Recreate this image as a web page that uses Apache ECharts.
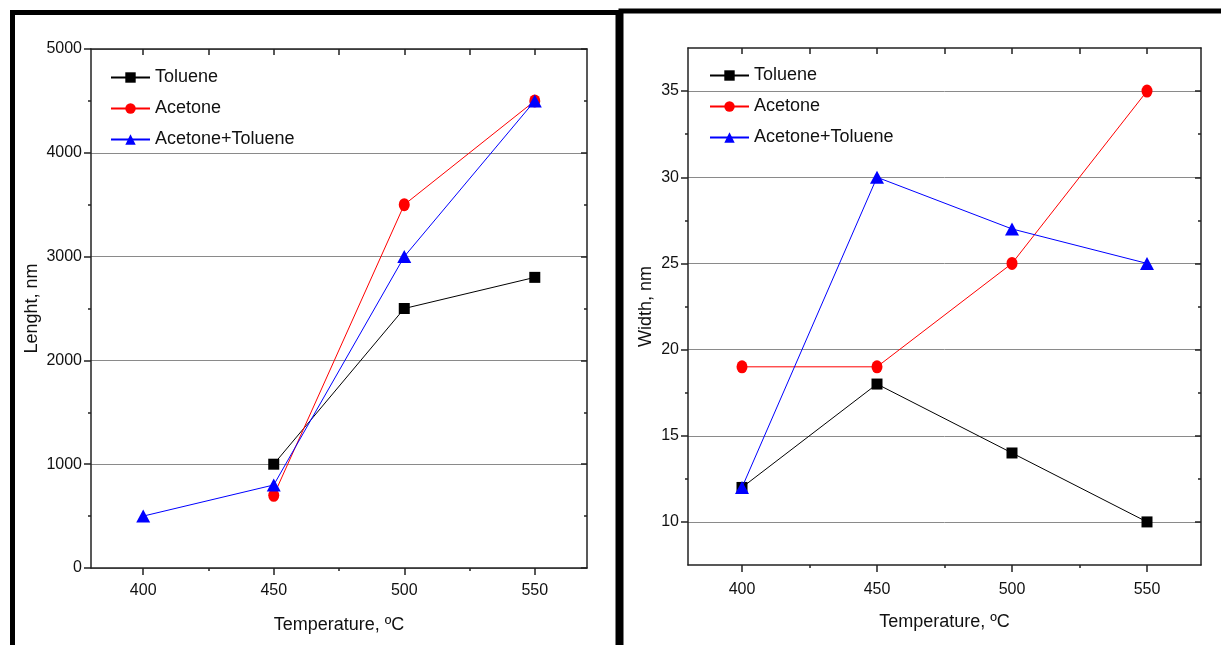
<!DOCTYPE html>
<html lang="en">
<head>
    <meta charset="UTF-8">
    <title>Length and width vs temperature</title>
    <script src="https://cdn.jsdelivr.net/npm/echarts@6.0.0/dist/echarts.min.js"></script>
    <style>
        body { margin: 0; background: #fff; }
    </style>
</head>
<body>
    <div id="main" style="width: 1221px;height:645px;"></div>
    <script type="text/javascript">
        // data
        const temps = [400, 450, 500, 550];
        const lengthToluene = [null, 1000, 2500, 2800];
        const lengthAcetone = [null, 700, 3500, 4500];
        const lengthMix = [500, 800, 3000, 4500];
        const widthToluene = [12, 18, 14, 10];
        const widthAcetone = [19, 19, 25, 35];
        const widthMix = [12, 30, 27, 25];

        // tick labels
        const xMajor = [400, 450, 500, 550];
        const xMinor = [425, 475, 525];
        const widthMajor = [10, 15, 20, 25, 30, 35];
        const widthMinor = [12.5, 17.5, 22.5, 27.5, 32.5];

        const names = ['Toluene', 'Acetone', 'Acetone+Toluene'];
        const colors = ['#000000', '#ff0000', '#0000ff'];
        const symbols = ['rect', 'circle', 'triangle'];
        const sizes = [11, [11, 13], [14, 13]];

        const font = 'Liberation Sans, Arial, sans-serif';
        const axisColor = '#222';

        function pairs(ys) {
            return temps.map((t, i) => ys[i] == null ? null : [t, ys[i]]).filter(Boolean);
        }

        function bottomAxis(grid, ticks, len, withLabels, margin) {
            return {
                type: 'value', gridIndex: grid, position: 'bottom', min: 380, max: 570,
                axisLine: { show: withLabels, lineStyle: { color: axisColor, width: 1.5 } },
                axisTick: { show: true, customValues: ticks, length: len, lineStyle: { color: axisColor, width: 1.5 } },
                axisLabel: withLabels
                    ? { customValues: ticks, color: '#111', fontSize: 16, fontFamily: font, margin: margin }
                    : { show: false },
                splitLine: { show: false },
                name: withLabels ? 'Temperature, ºC' : '',
                nameLocation: 'middle', nameGap: 48,
                nameTextStyle: { color: '#111', fontSize: 18, fontFamily: font }
            };
        }

        function topAxis(grid) {
            return {
                type: 'value', gridIndex: grid, position: 'top', min: 380, max: 570,
                axisLine: { show: true, lineStyle: { color: axisColor, width: 1.5 } },
                axisTick: { show: true, inside: true, customValues: xMajor.concat(xMinor), length: 6, lineStyle: { color: axisColor, width: 1.5 } },
                axisLabel: { show: false },
                splitLine: { show: false }
            };
        }

        function makeSeries(list, xi, yi) {
            return list.map((ys, k) => ({
                name: names[k],
                type: 'line',
                xAxisIndex: xi,
                yAxisIndex: yi,
                data: pairs(ys),
                symbol: symbols[k],
                symbolSize: sizes[k],
                showSymbol: true,
                lineStyle: { color: colors[k], width: 1 },
                itemStyle: { color: colors[k] },
                z: 3 + k
            }));
        }

        function legend(left, top) {
            return {
                orient: 'vertical', left: left, top: top,
                data: names,
                itemWidth: 39, itemHeight: 13, itemGap: 12,
                textStyle: { color: '#111', fontSize: 18, fontFamily: font, lineHeight: 19 }
            };
        }

        let myChart = echarts.init(document.getElementById('main'));

        let options = {
            backgroundColor: '#fff',
            animation: false,
            grid: [
                { left: 91, top: 49, width: 496, height: 519 },
                { left: 688, top: 48, width: 513, height: 517 }
            ],
            legend: [legend(105, 63), legend(704, 61)],
            graphic: [
                { type: 'rect', shape: { x: 12.5, y: 12.5, width: 605.5, height: 700 }, style: { fill: null, stroke: '#000', lineWidth: 5 }, silent: true },
                { type: 'rect', shape: { x: 621, y: 11, width: 700, height: 700 }, style: { fill: null, stroke: '#000', lineWidth: 5 }, silent: true }
            ],
            xAxis: [
                bottomAxis(0, xMajor, 7, true, 15),
                bottomAxis(0, xMinor, 3, false, 0),
                topAxis(0),
                bottomAxis(1, xMajor, 7, true, 17),
                bottomAxis(1, xMinor, 3, false, 0),
                topAxis(1)
            ],
            yAxis: [
                {
                    type: 'value', gridIndex: 0, position: 'left', min: 0, max: 5000, interval: 1000,
                    axisLine: { show: true, lineStyle: { color: axisColor, width: 1.5 } },
                    axisTick: { show: true, length: 7, lineStyle: { color: axisColor, width: 1.5 } },
                    minorTick: { show: true, splitNumber: 2, length: 3, lineStyle: { color: axisColor, width: 1.5 } },
                    axisLabel: { color: '#111', fontSize: 16, fontFamily: font, margin: 9, formatter: v => String(v) },
                    splitLine: { show: true, lineStyle: { color: '#8a8a8a', width: 1 } },
                    name: 'Lenght, nm', nameLocation: 'middle', nameGap: 50,
                    nameTextStyle: { color: '#111', fontSize: 18, fontFamily: font }
                },
                {
                    type: 'value', gridIndex: 0, position: 'right', min: 0, max: 5000, interval: 1000,
                    axisLine: { show: true, lineStyle: { color: axisColor, width: 1.5 } },
                    axisTick: { show: true, inside: true, length: 6, lineStyle: { color: axisColor, width: 1.5 } },
                    minorTick: { show: true, splitNumber: 2, length: 3, lineStyle: { color: axisColor, width: 1.5 } },
                    axisLabel: { show: false },
                    splitLine: { show: false }
                },
                {
                    type: 'value', gridIndex: 1, position: 'left', min: 7.5, max: 37.5,
                    axisLine: { show: true, lineStyle: { color: axisColor, width: 1.5 } },
                    axisTick: { show: true, customValues: widthMajor, length: 7, lineStyle: { color: axisColor, width: 1.5 } },
                    axisLabel: { customValues: widthMajor, color: '#111', fontSize: 16, fontFamily: font, margin: 9 },
                    splitLine: { show: true, lineStyle: { color: '#8a8a8a', width: 1 } },
                    name: 'Width, nm', nameLocation: 'middle', nameGap: 33,
                    nameTextStyle: { color: '#111', fontSize: 18, fontFamily: font }
                },
                {
                    type: 'value', gridIndex: 1, position: 'left', min: 7.5, max: 37.5,
                    axisLine: { show: false },
                    axisTick: { show: true, customValues: widthMinor, length: 3, lineStyle: { color: axisColor, width: 1.5 } },
                    axisLabel: { show: false },
                    splitLine: { show: false }
                },
                {
                    type: 'value', gridIndex: 1, position: 'right', min: 7.5, max: 37.5,
                    axisLine: { show: true, lineStyle: { color: axisColor, width: 1.5 } },
                    axisTick: { show: true, inside: true, customValues: widthMajor, length: 6, lineStyle: { color: axisColor, width: 1.5 } },
                    axisLabel: { show: false },
                    splitLine: { show: false }
                },
                {
                    type: 'value', gridIndex: 1, position: 'right', min: 7.5, max: 37.5,
                    axisLine: { show: false },
                    axisTick: { show: true, inside: true, customValues: widthMinor, length: 3, lineStyle: { color: axisColor, width: 1.5 } },
                    axisLabel: { show: false },
                    splitLine: { show: false }
                }
            ],
            series: makeSeries([lengthToluene, lengthAcetone, lengthMix], 0, 0)
                .concat(makeSeries([widthToluene, widthAcetone, widthMix], 3, 2))
        };

        myChart.setOption(options);
    </script>
</body>
</html>
